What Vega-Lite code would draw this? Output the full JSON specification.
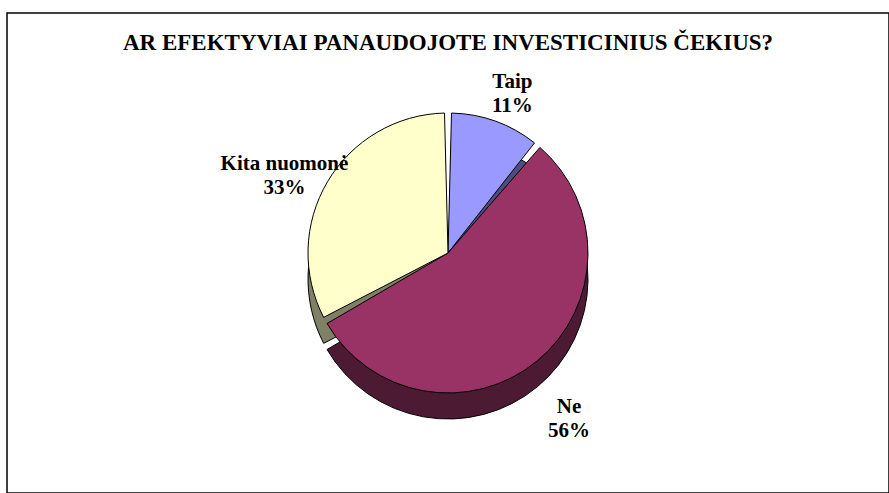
{
  "$schema": "https://vega.github.io/schema/vega-lite/v6.json",
  "width": 882,
  "height": 480,
  "autosize": {"type": "none"},
  "padding": {"left": 7, "top": 13, "right": 0, "bottom": 0},
  "background": "white",
  "config": {
    "view": {"stroke": null},
    "font": "Liberation Serif, Times New Roman, serif"
  },
  "title": {
    "text": "AR EFEKTYVIAI PANAUDOJOTE INVESTICINIUS ČEKIUS?",
    "font": "Liberation Serif, Times New Roman, serif",
    "fontSize": 23,
    "fontWeight": "bold",
    "color": "black",
    "anchor": "middle",
    "offset": -43
  },
  "data": {
    "values": [
      {"cat": "Taip", "value": 11, "ord": 1, "label": "Taip\n11%"},
      {"cat": "Ne", "value": 56, "ord": 2, "label": "Ne\n56%"},
      {"cat": "Kita nuomonė", "value": 33, "ord": 3, "label": "Kita nuomonė\n33%"}
    ]
  },
  "layer": [
    {
      "data": {"values": [{"frame": "chart"}]},
      "mark": {"type": "rect", "fill": null, "stroke": "black", "strokeWidth": 1.5},
      "encoding": {}
    },
    {
      "mark": {"type": "arc", "outerRadius": 140, "yOffset": 26, "stroke": "black", "strokeWidth": 1, "padAngle": 0.05},
      "encoding": {
        "theta": {"field": "value", "type": "quantitative", "stack": true},
        "order": {"field": "ord", "type": "quantitative"},
        "color": {
          "field": "cat", "type": "nominal", "legend": null,
          "scale": {"domain": ["Taip", "Ne", "Kita nuomonė"], "range": ["#4D4D80", "#4D1A33", "#808066"]}
        }
      }
    },
    {
      "mark": {"type": "arc", "outerRadius": 140, "stroke": "black", "strokeWidth": 1, "padAngle": 0.05},
      "encoding": {
        "theta": {"field": "value", "type": "quantitative", "stack": true},
        "order": {"field": "ord", "type": "quantitative"},
        "color": {
          "field": "cat", "type": "nominal", "legend": null,
          "scale": {"domain": ["Taip", "Ne", "Kita nuomonė"], "range": ["#9999FF", "#993366", "#FFFFCC"]}
        }
      }
    },
    {
      "mark": {"type": "text", "radius": 190, "dy": 8, "font": "Liberation Serif, Times New Roman, serif", "fontSize": 21, "fontWeight": "bold", "lineBreak": "\n", "lineHeight": 24, "align": "center", "baseline": "middle", "color": "black"},
      "encoding": {
        "theta": {"field": "value", "type": "quantitative", "stack": true},
        "order": {"field": "ord", "type": "quantitative"},
        "text": {"field": "label", "type": "nominal"}
      }
    }
  ],
  "resolve": {"scale": {"color": "independent"}}
}
